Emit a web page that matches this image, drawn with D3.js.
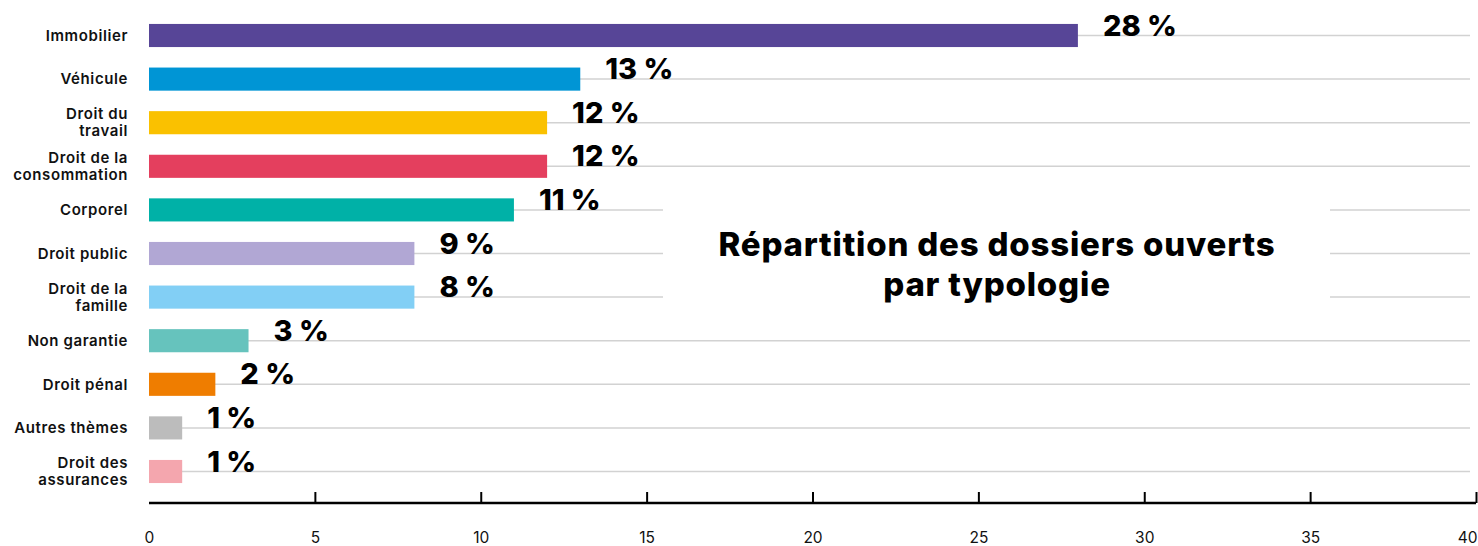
<!DOCTYPE html>
<html>
<head>
<meta charset="utf-8">
<script src="https://cdn.jsdelivr.net/npm/d3@7"></script>
<style>
  body { margin: 0; background: #fff; }
  svg { display: block; font-family: Inter, "Noto Sans", sans-serif; }
</style>
</head>
<body>
<div id="container"></div>
<script>
// data
const categories = [
  ["Immobilier"],
  ["Véhicule"],
  ["Droit du", "travail"],
  ["Droit de la", "consommation"],
  ["Corporel"],
  ["Droit public"],
  ["Droit de la", "famille"],
  ["Non garantie"],
  ["Droit pénal"],
  ["Autres thèmes"],
  ["Droit des", "assurances"]
]
const values = [28, 13, 12, 12, 11, 8, 8, 3, 2, 1, 1]
const valueLabels = ["28 %", "13 %", "12 %", "12 %", "11 %", "9 %", "8 %", "3 %", "2 %", "1 %", "1 %"]
const colors = ["#574597", "#0095d5", "#fac100", "#e43f5e", "#00b1a7", "#b1a7d4", "#82cff5", "#66c3bd", "#ef7d00", "#bcbcbc", "#f4a6ae"]
const xTicks = [0, 5, 10, 15, 20, 25, 30, 35, 40]
const titleLines = ["Répartition des dossiers ouverts", "par typologie"]

const width = 1478
const height = 546

const svg = d3.select("#container")
  .append("svg")
  .attr("width", width)
  .attr("height", height)

// scales
const x = d3.scaleLinear().domain([0, 40]).range([149, 1476])
const y = d3.scaleBand()
  .domain(d3.range(categories.length))
  .range([13.7, 493.3])
  .paddingInner(0.47)
  .paddingOuter(0.235)

const rows = categories.map((c, i) => ({ i, lines: c, value: values[i], label: valueLabels[i], color: colors[i] }))

// gridlines at bar centre
svg.append("g")
  .selectAll("line")
  .data(rows)
  .join("line")
  .attr("x1", x(0))
  .attr("x2", 1470)
  .attr("y1", d => y(d.i) + y.bandwidth() / 2)
  .attr("y2", d => y(d.i) + y.bandwidth() / 2)
  .attr("stroke", "#d2d2d2")
  .attr("stroke-width", 1.5)

// bars
svg.append("g")
  .selectAll("rect")
  .data(rows)
  .join("rect")
  .attr("x", x(0))
  .attr("y", d => y(d.i))
  .attr("width", d => x(d.value) - x(0))
  .attr("height", y.bandwidth())
  .attr("fill", d => d.color)

// value labels
svg.append("g")
  .selectAll("text")
  .data(rows)
  .join("text")
  .attr("x", d => x(d.value) + 25)
  .attr("y", d => y(d.i) + y.bandwidth() / 2)
  .attr("font-size", 29)
  .attr("font-weight", 800)
  .attr("fill", "#000")
  .text(d => d.label)

// category labels (1 or 2 lines)
const cat = svg.append("g")
  .selectAll("text")
  .data(rows)
  .join("text")
  .attr("text-anchor", "end")
  .attr("font-size", 15)
  .attr("font-weight", 600)
  .attr("letter-spacing", 0.6)
  .attr("fill", "#111")
  .attr("transform", d => `translate(128, ${y(d.i) + y.bandwidth() / 2})`)

cat.selectAll("tspan")
  .data(d => d.lines.map((t, k) => ({ t, k, n: d.lines.length })))
  .join("tspan")
  .attr("x", 0)
  .attr("y", d => (d.k - (d.n - 1) / 2) * 17)
  .attr("dy", "0.35em")
  .text(d => d.t)

// title box, hides gridlines behind it
svg.append("rect")
  .attr("x", 663)
  .attr("y", 200)
  .attr("width", 667)
  .attr("height", 115)
  .attr("fill", "#fff")

svg.append("g")
  .selectAll("text")
  .data(titleLines)
  .join("text")
  .attr("x", 997)
  .attr("y", (d, i) => 256 + i * 40)
  .attr("text-anchor", "middle")
  .attr("font-size", 33)
  .attr("font-weight", 800)
  .attr("letter-spacing", 0.8)
  .attr("fill", "#000")
  .text(d => d)

// x axis
const xAxis = d3.axisBottom(x)
  .tickValues(xTicks)
  .tickSize(-11)
  .tickPadding(29)

const gx = svg.append("g")
  .attr("transform", "translate(0, 503)")
  .call(xAxis)

gx.select(".domain").remove()
gx.selectAll(".tick line")
  .attr("stroke", "#000")
  .attr("stroke-width", 2)
  .attr("display", d => d === 0 ? "none" : null)
gx.selectAll(".tick text")
  .attr("font-size", 15.5)
  .attr("font-family", "Inter, sans-serif")
  .attr("fill", "#111")
  .attr("text-anchor", d => d === 40 ? "end" : "middle")
  .attr("dx", d => d === 40 ? 1 : 0)

gx.append("line")
  .attr("x1", x(0))
  .attr("x2", x(40))
  .attr("stroke", "#000")
  .attr("stroke-width", 2.5)
</script>
</body>
</html>
